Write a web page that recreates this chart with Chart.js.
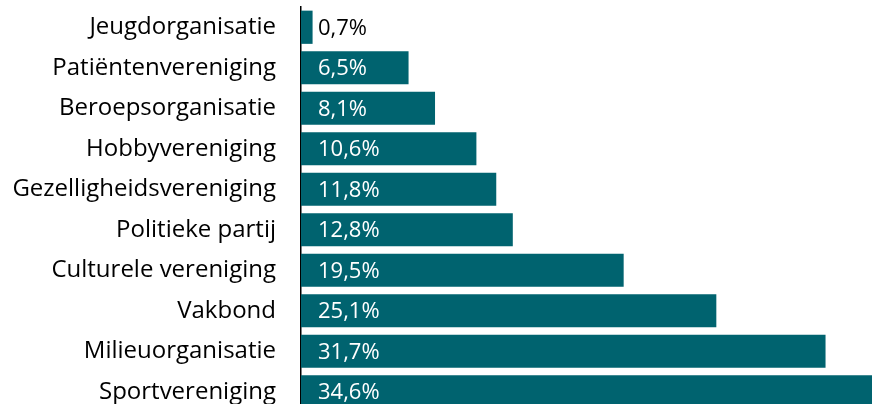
<!DOCTYPE html>
<html>
<head>
<meta charset="utf-8">
<script src="https://cdn.jsdelivr.net/npm/chart.js@4"></script>
<style>
  html, body { margin: 0; padding: 0; background: #fff; }
  #wrap { width: 872px; height: 404px; overflow: hidden; position: relative; }
  #chart { position: absolute; left: 0; top: 0; }
</style>
</head>
<body>
<div id="wrap"><canvas id="chart" width="900" height="420"></canvas></div>
<script>
const categories = [
  "Jeugdorganisatie",
  "Patiëntenvereniging",
  "Beroepsorganisatie",
  "Hobbyvereniging",
  "Gezelligheidsvereniging",
  "Politieke partij",
  "Culturele vereniging",
  "Vakbond",
  "Milieuorganisatie",
  "Sportvereniging",
];
const percentages = [0.7, 6.5, 8.1, 10.6, 11.8, 12.8, 19.5, 25.1, 31.7, 34.6];

const barColor = "#00636f";
const fontFamily = "'Open Sans', 'Noto Sans', sans-serif";

const fmt = (v) => v.toFixed(1).replace(".", ",") + "%";

// draws the value label at the start of each bar
const valueLabels = {
  id: "valueLabels",
  afterDatasetsDraw(chart) {
    const ctx = chart.ctx;
    const meta = chart.getDatasetMeta(0);
    ctx.save();
    ctx.font = "22px " + fontFamily;
    ctx.textBaseline = "middle";
    ctx.textAlign = "left";
    meta.data.forEach((bar, i) => {
      const text = fmt(percentages[i]);
      const x = bar.base + 17;
      const w = ctx.measureText(text).width;
      ctx.fillStyle = bar.x > x + w ? "#ffffff" : "#000000";
      ctx.fillText(text, x, bar.y + 1);
    });
    ctx.restore();
  },
};

new Chart(document.getElementById("chart"), {
  type: "bar",
  data: {
    labels: categories,
    datasets: [
      {
        data: percentages,
        backgroundColor: barColor,
        borderWidth: 0,
        categoryPercentage: 1,
        barPercentage: 0.82,
      },
    ],
  },
  options: {
    indexAxis: "y",
    responsive: false,
    animation: false,
    devicePixelRatio: 1,
    layout: { padding: { top: 7, bottom: 8, left: 0, right: 0 } },
    plugins: {
      legend: { display: false },
      tooltip: { enabled: false },
    },
    scales: {
      x: {
        display: false,
        min: 0,
        max: 36.2,
      },
      y: {
        afterFit: (scale) => {
          scale.width = 301;
          scale.paddingTop = 0;
          scale.paddingBottom = 0;
        },
        grid: { display: false, drawTicks: false },
        border: { display: true, color: "#000000", width: 1.5 },
        ticks: {
          color: "#000000",
          padding: 25,
          font: { family: fontFamily, size: 24 },
        },
      },
    },
  },
  plugins: [valueLabels],
});
</script>
</body>
</html>
